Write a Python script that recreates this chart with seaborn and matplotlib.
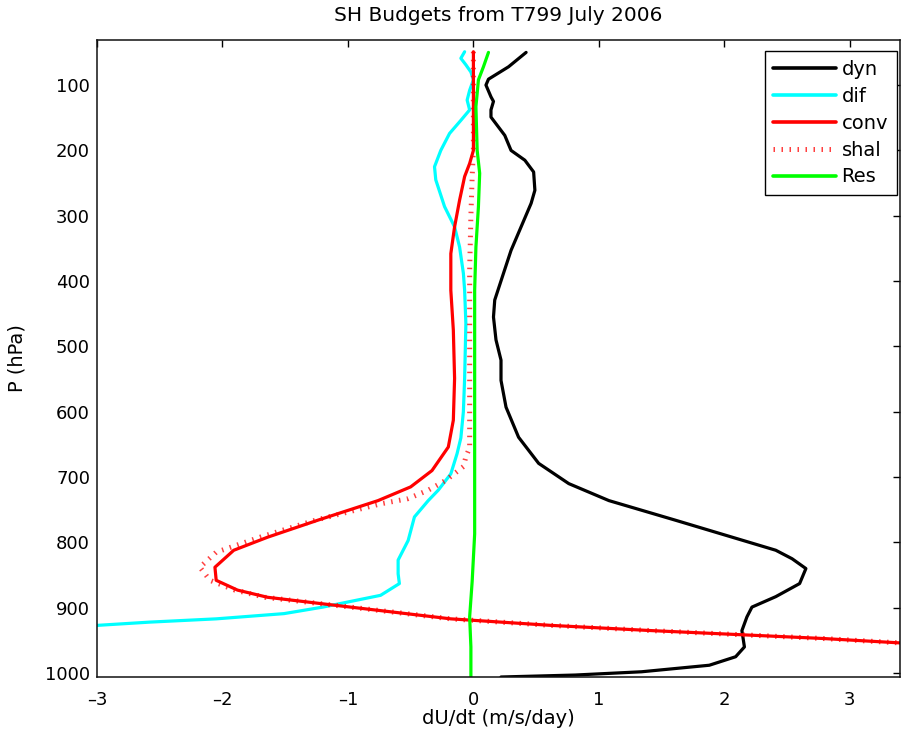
import numpy as np
import pandas as pd
import matplotlib
matplotlib.use("Agg")
import matplotlib.pyplot as plt
import seaborn as sns

# values (x in m/s/day, pressure in hPa)
dyn_p = [50, 72, 91, 100, 118, 125, 138, 149, 177, 200, 215, 233, 261, 281, 317, 353, 388,
         429, 455, 490, 521, 552, 593, 639, 679, 710, 736, 766, 789, 812, 825, 840, 863, 883,
         899, 914, 935, 960, 975, 988, 998, 1003, 1006]
dyn_u = [0.42, 0.28, 0.12, 0.10, 0.14, 0.16, 0.14, 0.14, 0.25, 0.30, 0.41, 0.48, 0.49, 0.46,
         0.38, 0.30, 0.24, 0.17, 0.16, 0.18, 0.22, 0.22, 0.26, 0.36, 0.52, 0.76, 1.08, 1.61,
         2.01, 2.41, 2.54, 2.65, 2.60, 2.41, 2.22, 2.18, 2.14, 2.16, 2.09, 1.88, 1.34, 0.81, 0.22]

dif_p = [49, 59, 69, 80, 92, 108, 123, 138, 154, 174, 200, 225, 245, 286, 317, 348, 388, 414,
         465, 549, 600, 640, 664, 695, 720, 736, 761, 797, 827, 848, 863, 881, 899, 909, 917,
         922, 927, 930]
dif_u = [-0.07, -0.10, -0.06, -0.02, 0.00, -0.03, -0.05, -0.03, -0.10, -0.19, -0.26, -0.31,
         -0.30, -0.23, -0.15, -0.11, -0.08, -0.07, -0.06, -0.07, -0.08, -0.10, -0.13, -0.18,
         -0.28, -0.36, -0.47, -0.52, -0.60, -0.60, -0.59, -0.74, -1.20, -1.51, -2.05, -2.58,
         -3.00, -3.20]

conv_p = [49, 133, 200, 220, 240, 276, 317, 358, 414, 475, 549, 613, 654, 690, 715, 736, 766,
          792, 812, 838, 858, 873, 884, 899, 917, 927, 935, 947, 956]
conv_u = [0.00, 0.00, 0.00, -0.03, -0.07, -0.11, -0.15, -0.18, -0.18, -0.16, -0.15, -0.16,
          -0.20, -0.33, -0.50, -0.76, -1.24, -1.64, -1.91, -2.06, -2.05, -1.88, -1.64, -0.98,
          -0.18, 0.62, 1.42, 2.78, 3.60]

shal_p = [49, 133, 200, 240, 300, 383, 460, 560, 655, 669, 684, 705, 720, 733, 741, 766, 792,
          815, 838, 858, 873, 884, 899, 917, 927, 935, 947, 956]
shal_u = [0.00, 0.00, 0.00, -0.01, -0.02, -0.03, -0.03, -0.03, -0.03, -0.06, -0.08, -0.22,
          -0.36, -0.52, -0.74, -1.26, -1.70, -2.05, -2.18, -2.10, -1.90, -1.66, -0.98, -0.18,
          0.62, 1.42, 2.78, 3.60]

res_p = [50, 72, 92, 133, 200, 235, 286, 348, 414, 549, 659, 736, 787, 860, 914, 960, 1008]
res_u = [0.12, 0.08, 0.04, 0.02, 0.03, 0.05, 0.04, 0.02, 0.01, 0.01, 0.01, 0.01, 0.01, -0.01,
         -0.03, -0.02, -0.02]

x_ticks = [-3, -2, -1, 0, 1, 2, 3]
p_ticks = [100, 200, 300, 400, 500, 600, 700, 800, 900, 1000]

sns.set_style("white")
plt.rcParams["font.family"] = ["DejaVu Sans"]
plt.rcParams["text.color"] = "black"
plt.rcParams["axes.labelcolor"] = "black"
plt.rcParams["xtick.color"] = "black"
plt.rcParams["ytick.color"] = "black"

fig = plt.figure(figsize=(9.01, 7.37), dpi=100)
ax = fig.add_axes([97 / 901, 60 / 737, 803 / 901, 637 / 737])

lw = 2.3
dots = (0, (0.3, 1.3))
sns.lineplot(x=dyn_u, y=dyn_p, sort=False, estimator=None, color="black", lw=lw, ax=ax, label="dyn")
sns.lineplot(x=dif_u, y=dif_p, sort=False, estimator=None, color="cyan", lw=lw, ax=ax, label="dif")
sns.lineplot(x=conv_u, y=conv_p, sort=False, estimator=None, color="red", lw=lw, ax=ax, label="conv")
sns.lineplot(x=shal_u, y=shal_p, sort=False, estimator=None, color="red", lw=3.6, alpha=0.75,
             ax=ax, label="shal")
ax.lines[-1].set_linestyle(dots)
ax.lines[-1].set_dash_capstyle("butt")
sns.lineplot(x=res_u, y=res_p, sort=False, estimator=None, color="#00ff00", lw=lw, ax=ax, label="Res")

ax.set_xlim(-3, 3.4)
ax.set_ylim(1006, 31)
ax.set_xticks(x_ticks)
ax.set_xticklabels([str(t).replace("-", "\u2013") for t in x_ticks])
ax.set_yticks(p_ticks)
ax.tick_params(direction="in", top=True, right=True, length=5, width=1, labelsize=13)
ax.tick_params(axis="x", pad=10)
ax.tick_params(axis="y", pad=5)
for s in ax.spines.values():
    s.set_color("#111111")
    s.set_linewidth(1.1)

ax.set_xlabel("dU/dt (m/s/day)", fontsize=14)
ax.set_ylabel("P (hPa)", fontsize=14)
ax.xaxis.set_label_coords(0.5, -0.051)
ax.yaxis.set_label_coords(-0.088, 0.5)
ax.set_title("SH Budgets from T799 July 2006", fontsize=14.5, pad=14)

leg = ax.legend(loc="upper right", bbox_to_anchor=(0.996, 0.982), borderaxespad=0,
                fancybox=False, framealpha=1, edgecolor="black", fontsize=14,
                handlelength=3.2, labelspacing=0.4, handletextpad=0.3, borderpad=0.45)
leg.get_frame().set_linewidth(1.0)
for h in leg.get_lines():
    h.set_linewidth(2.6)
leg.get_lines()[3].set_linestyle(dots)
leg.get_lines()[3].set_linewidth(3.6)

fig.savefig("out.png", dpi=100)
